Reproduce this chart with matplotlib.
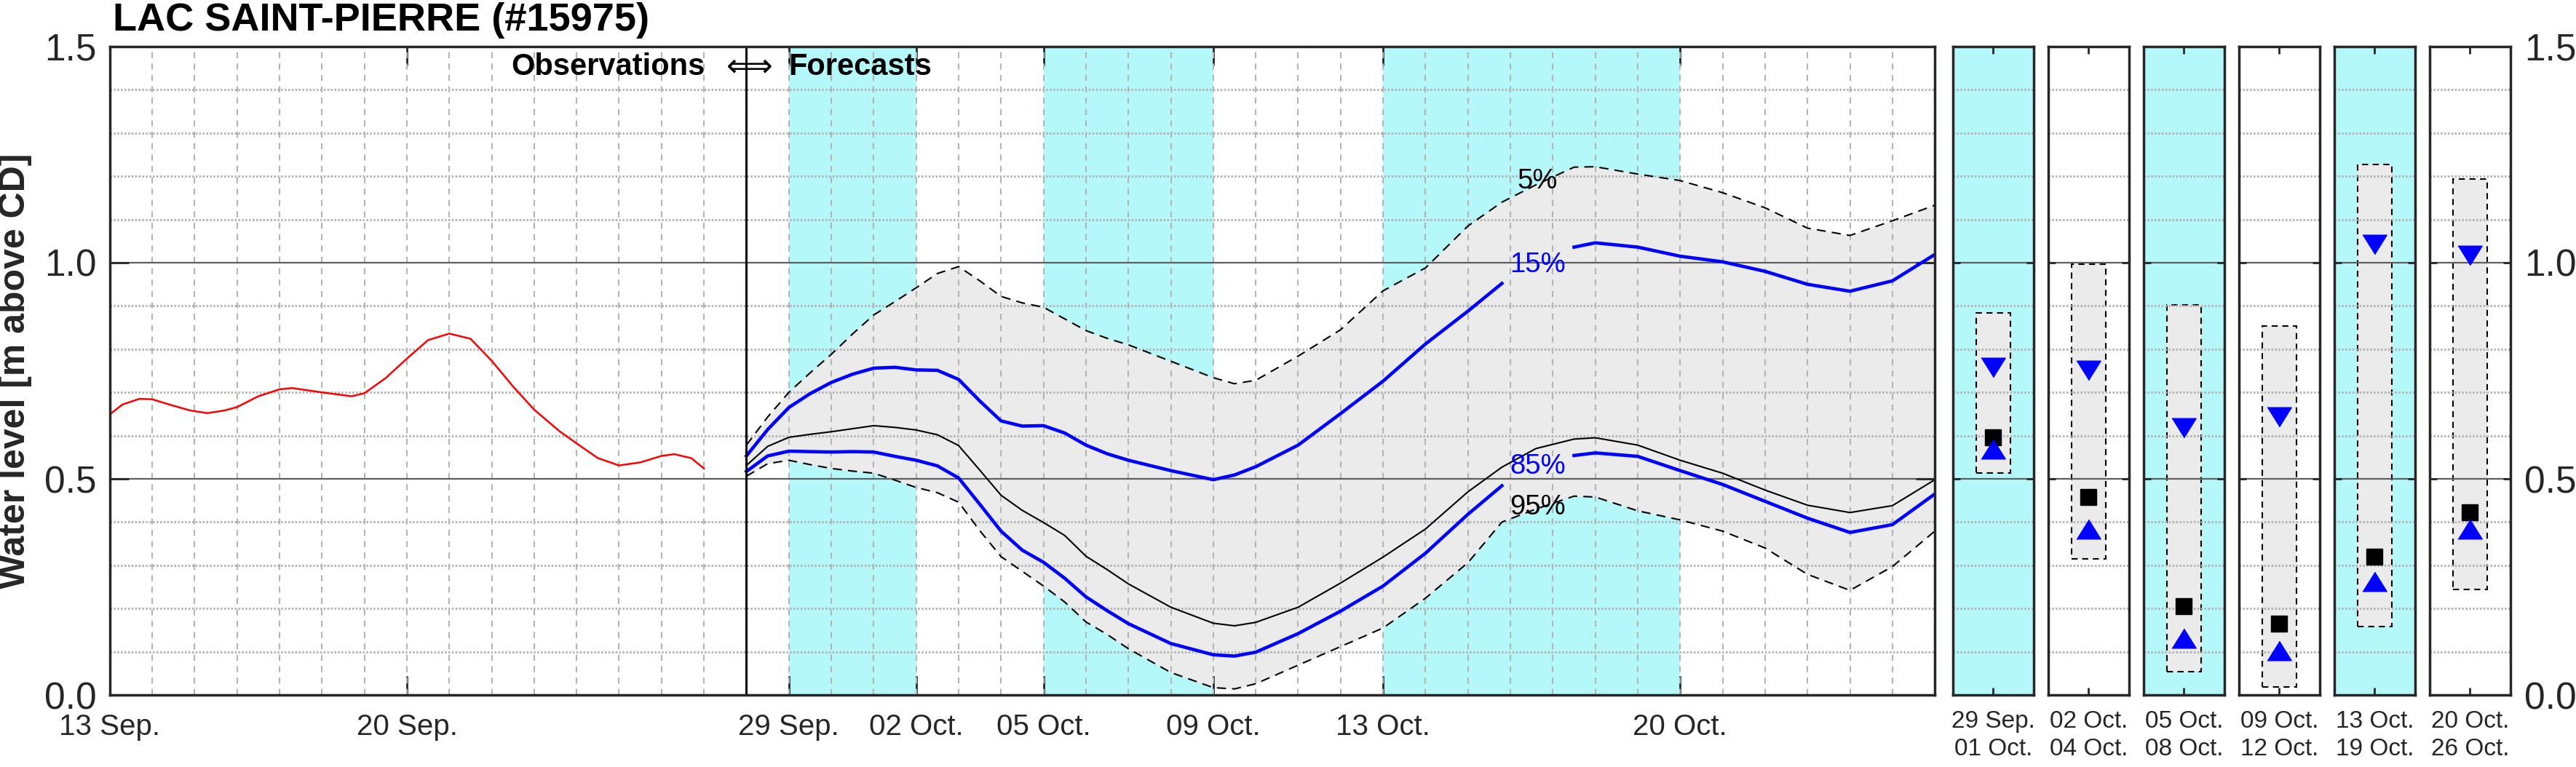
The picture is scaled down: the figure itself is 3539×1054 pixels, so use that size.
import numpy as np
import matplotlib
matplotlib.use("Agg")
import matplotlib.pyplot as plt
from matplotlib.ticker import MultipleLocator

plt.rcParams['font.family'] = ['Liberation Sans', 'DejaVu Sans']

# days counted from 13 Sep.
obs_days = [0, 0.3, 0.7, 1.0, 1.4, 1.9, 2.3, 2.7, 3.0, 3.5, 4.0, 4.3, 5.0, 5.7, 6.0, 6.5,
            7.0, 7.5, 8.0, 8.5, 9.0, 9.5, 10.0, 10.6, 11.0, 11.5, 12.0, 12.5, 13.0, 13.3, 13.7, 14.0]
obs_level = [0.649, 0.672, 0.685, 0.684, 0.672, 0.658, 0.652, 0.658, 0.666, 0.691, 0.707, 0.710,
             0.700, 0.691, 0.698, 0.733, 0.778, 0.821, 0.836, 0.824, 0.773, 0.714, 0.660, 0.610,
             0.582, 0.548, 0.531, 0.538, 0.553, 0.557, 0.548, 0.524]

fc_days = [15, 15.5, 16, 16.5, 17, 17.5, 18, 18.5, 19, 19.5, 20, 20.5, 21, 21.5, 22, 22.5, 23,
           23.5, 24, 25, 26, 26.5, 27, 28, 29, 30, 31, 32, 32.8, 33.6, 34.5, 35, 36, 37, 38, 39,
           40, 41, 42, 43]
nan = np.nan
p05 = [0.578, 0.643, 0.700, 0.745, 0.788, 0.835, 0.879, 0.910, 0.942, 0.975, 0.991, 0.958,
       0.922, 0.907, 0.897, 0.870, 0.843, 0.825, 0.810, 0.772, 0.734, 0.720, 0.728, 0.784,
       0.845, 0.935, 0.988, 1.085, 1.140, 1.180, 1.221, 1.222, 1.205, 1.190, 1.162, 1.127,
       1.080, 1.063, 1.097, 1.133]
p15 = [0.553, 0.614, 0.665, 0.697, 0.723, 0.742, 0.756, 0.758, 0.752, 0.751, 0.730, 0.680,
       0.634, 0.622, 0.623, 0.606, 0.578, 0.558, 0.543, 0.519, 0.498, 0.509, 0.528, 0.578,
       0.651, 0.726, 0.812, 0.888, 0.952, nan, 1.036, 1.046, 1.036, 1.015, 1.002, 0.980,
       0.950, 0.934, 0.958, 1.019]
p50 = [0.531, 0.575, 0.596, 0.603, 0.609, 0.616, 0.623, 0.619, 0.613, 0.602, 0.577, 0.520,
       0.462, 0.427, 0.399, 0.369, 0.321, 0.290, 0.257, 0.203, 0.166, 0.160, 0.168, 0.203,
       0.259, 0.319, 0.384, 0.470, 0.527, 0.570, 0.592, 0.595, 0.578, 0.543, 0.513, 0.474,
       0.439, 0.422, 0.438, 0.498]
p85 = [0.517, 0.553, 0.564, 0.563, 0.562, 0.563, 0.562, 0.552, 0.543, 0.530, 0.502, 0.441,
       0.379, 0.335, 0.307, 0.270, 0.227, 0.195, 0.165, 0.119, 0.093, 0.090, 0.099, 0.142,
       0.194, 0.252, 0.328, 0.418, 0.484, nan, 0.554, 0.560, 0.552, 0.519, 0.487, 0.448,
       0.409, 0.376, 0.394, 0.465]
p95 = [0.506, 0.535, 0.543, 0.533, 0.524, 0.518, 0.513, 0.497, 0.480, 0.468, 0.446, 0.380,
       0.320, 0.286, 0.252, 0.215, 0.169, 0.140, 0.107, 0.052, 0.017, 0.014, 0.026, 0.069,
       0.112, 0.155, 0.224, 0.306, 0.400, 0.430, 0.460, 0.458, 0.426, 0.405, 0.379, 0.340,
       0.279, 0.242, 0.297, 0.379]

tick_days = [0, 7, 16, 19, 22, 26, 30, 37]
tick_labels = ["13 Sep.", "20 Sep.", "29 Sep.", "02 Oct.", "05 Oct.", "09 Oct.", "13 Oct.", "20 Oct."]
band_start = [16, 22, 30]
band_end = [19, 26, 37]
forecast_start = 15

panel_labels = ["29 Sep.\n01 Oct.", "02 Oct.\n04 Oct.", "05 Oct.\n08 Oct.",
                "09 Oct.\n12 Oct.", "13 Oct.\n19 Oct.", "20 Oct.\n26 Oct."]
panel_shaded = [True, False, True, False, True, False]
box_low = [0.513, 0.315, 0.054, 0.019, 0.158, 0.244]
box_high = [0.884, 0.996, 0.902, 0.853, 1.227, 1.194]
tri_down = [0.757, 0.751, 0.618, 0.643, 1.042, 1.017]
square = [0.596, 0.458, 0.205, 0.165, 0.320, 0.422]
tri_up = [0.569, 0.384, 0.131, 0.103, 0.263, 0.384]

CYAN = '#B4F8FA'
FILL = '#EBEBEB'
DARK = '#262626'
GRID = '#B4B4B4'

down_marker = [(-1, 0.8), (1, 0.8), (0, -0.8)]
up_marker = [(-1, -0.8), (1, -0.8), (0, 0.8)]


def style_axes(a, tick_len):
    for s in a.spines.values():
        s.set_linewidth(2.5)
        s.set_color(DARK)
        s.set_zorder(5)
    a.tick_params(which='major', direction='in', length=tick_len, width=2, color=DARK,
                  labelcolor=DARK, top=True, right=True)
    a.tick_params(which='minor', length=0)
    a.set_ylim(0, 1.5)
    a.set_yticks([0, 0.5, 1.0, 1.5], ["0.0", "0.5", "1.0", "1.5"])
    a.yaxis.set_minor_locator(MultipleLocator(0.1))
    a.grid(which='minor', axis='y', color=GRID, linestyle=(0, (0.8, 0.8)), linewidth=2.2)
    a.grid(which='major', axis='y', color='#5F5F5F', linewidth=1.6)
    a.set_axisbelow('line')


fig = plt.figure(figsize=(35.39, 10.54), dpi=100)
ax = fig.add_axes([0.0426, 0.0939, 0.7085, 0.8454])
style_axes(ax, 19)
ax.set_xlim(0, 43)
ax.set_xticks(tick_days, tick_labels)
ax.set_xticks(np.arange(0, 44), minor=True)
ax.xaxis.remove_overlapping_locs = False
ax.grid(which='minor', axis='x', color=GRID, linestyle=(0, (4, 3.5)), linewidth=1.5)
ax.tick_params(axis='x', labelsize=29, pad=18)
ax.tick_params(axis='y', labelsize=37, pad=13)

for s, e in zip(band_start, band_end):
    ax.axvspan(s, e, color=CYAN, lw=0, zorder=0.3)
ax.fill_between(fc_days, p95, p05, color=FILL, lw=0, zorder=0.6)

ax.plot(obs_days, obs_level, color='red', lw=1.8, zorder=3)
ax.plot(fc_days, p05, color='k', ls=(0, (6, 4)), lw=1.5, zorder=3)
ax.plot(fc_days, p95, color='k', ls=(0, (6, 4)), lw=1.5, zorder=3)
ax.plot(fc_days, p50, color='k', lw=1.5, zorder=3)
ax.plot(fc_days, p15, color='blue', lw=3.3, zorder=3)
ax.plot(fc_days, p85, color='blue', lw=3.3, zorder=3)
ax.axvline(forecast_start, color='k', lw=2.2, zorder=4)

ax.text(33.64, 1.188, "5%", ha='center', va='center', fontsize=27.5, color='k', zorder=6)
ax.text(33.64, 0.995, "15%", ha='center', va='center', fontsize=27.5, color='blue', zorder=6)
ax.text(33.64, 0.528, "85%", ha='center', va='center', fontsize=27.5, color='blue', zorder=6)
ax.text(33.64, 0.435, "95%", ha='center', va='center', fontsize=27.5, color='k', zorder=6)

ax.text(forecast_start - 0.98, 1.453, "Observations", ha='right', va='center',
        fontsize=30, fontweight='bold', zorder=6)
ax.text(forecast_start, 1.453, r"$\Longleftrightarrow$", ha='center', va='center',
        fontsize=32, zorder=6)
ax.text(forecast_start + 1.0, 1.453, "Forecasts", ha='left', va='center',
        fontsize=30, fontweight='bold', zorder=6)

for i in range(len(panel_labels)):
    pa = fig.add_axes([0.7581 + i * 0.03702, 0.0939, 0.03136, 0.8454])
    style_axes(pa, 7)
    pa.set_xlim(0, 1)
    if panel_shaded[i]:
        pa.set_facecolor(CYAN)
    pa.bar(0.5, box_high[i] - box_low[i], bottom=box_low[i], width=0.42, color=FILL,
           edgecolor='k', linestyle=(0, (4, 3)), linewidth=1.5, zorder=0.8)
    pa.plot(0.5, tri_down[i], marker=down_marker, ms=24, color='blue', ls='none', zorder=3)
    pa.plot(0.5, square[i], marker='s', ms=15.5, color='k', ls='none', zorder=3)
    pa.plot(0.5, tri_up[i], marker=up_marker, ms=24, color='blue', ls='none', zorder=3)
    pa.set_xticks([0.5], [panel_labels[i]])
    pa.tick_params(axis='x', labelsize=24, pad=15)
    pa.tick_params(axis='y', labelsize=37, pad=14, labelleft=False, labelright=(i == len(panel_labels) - 1))
    for t in pa.get_xticklabels():
        t.set_linespacing(1.3)

fig.text(155 / 3539, 1 - 42 / 1054, "LAC SAINT-PIERRE (#15975)", fontsize=39,
         fontweight='bold', ha='left', va='baseline')
fig.text(0.0058, 0.5166, "Water level [m above CD]", rotation=90, fontsize=36,
         fontweight='bold', ha='center', va='center', color=DARK)

fig.savefig("out.png", dpi=100)
